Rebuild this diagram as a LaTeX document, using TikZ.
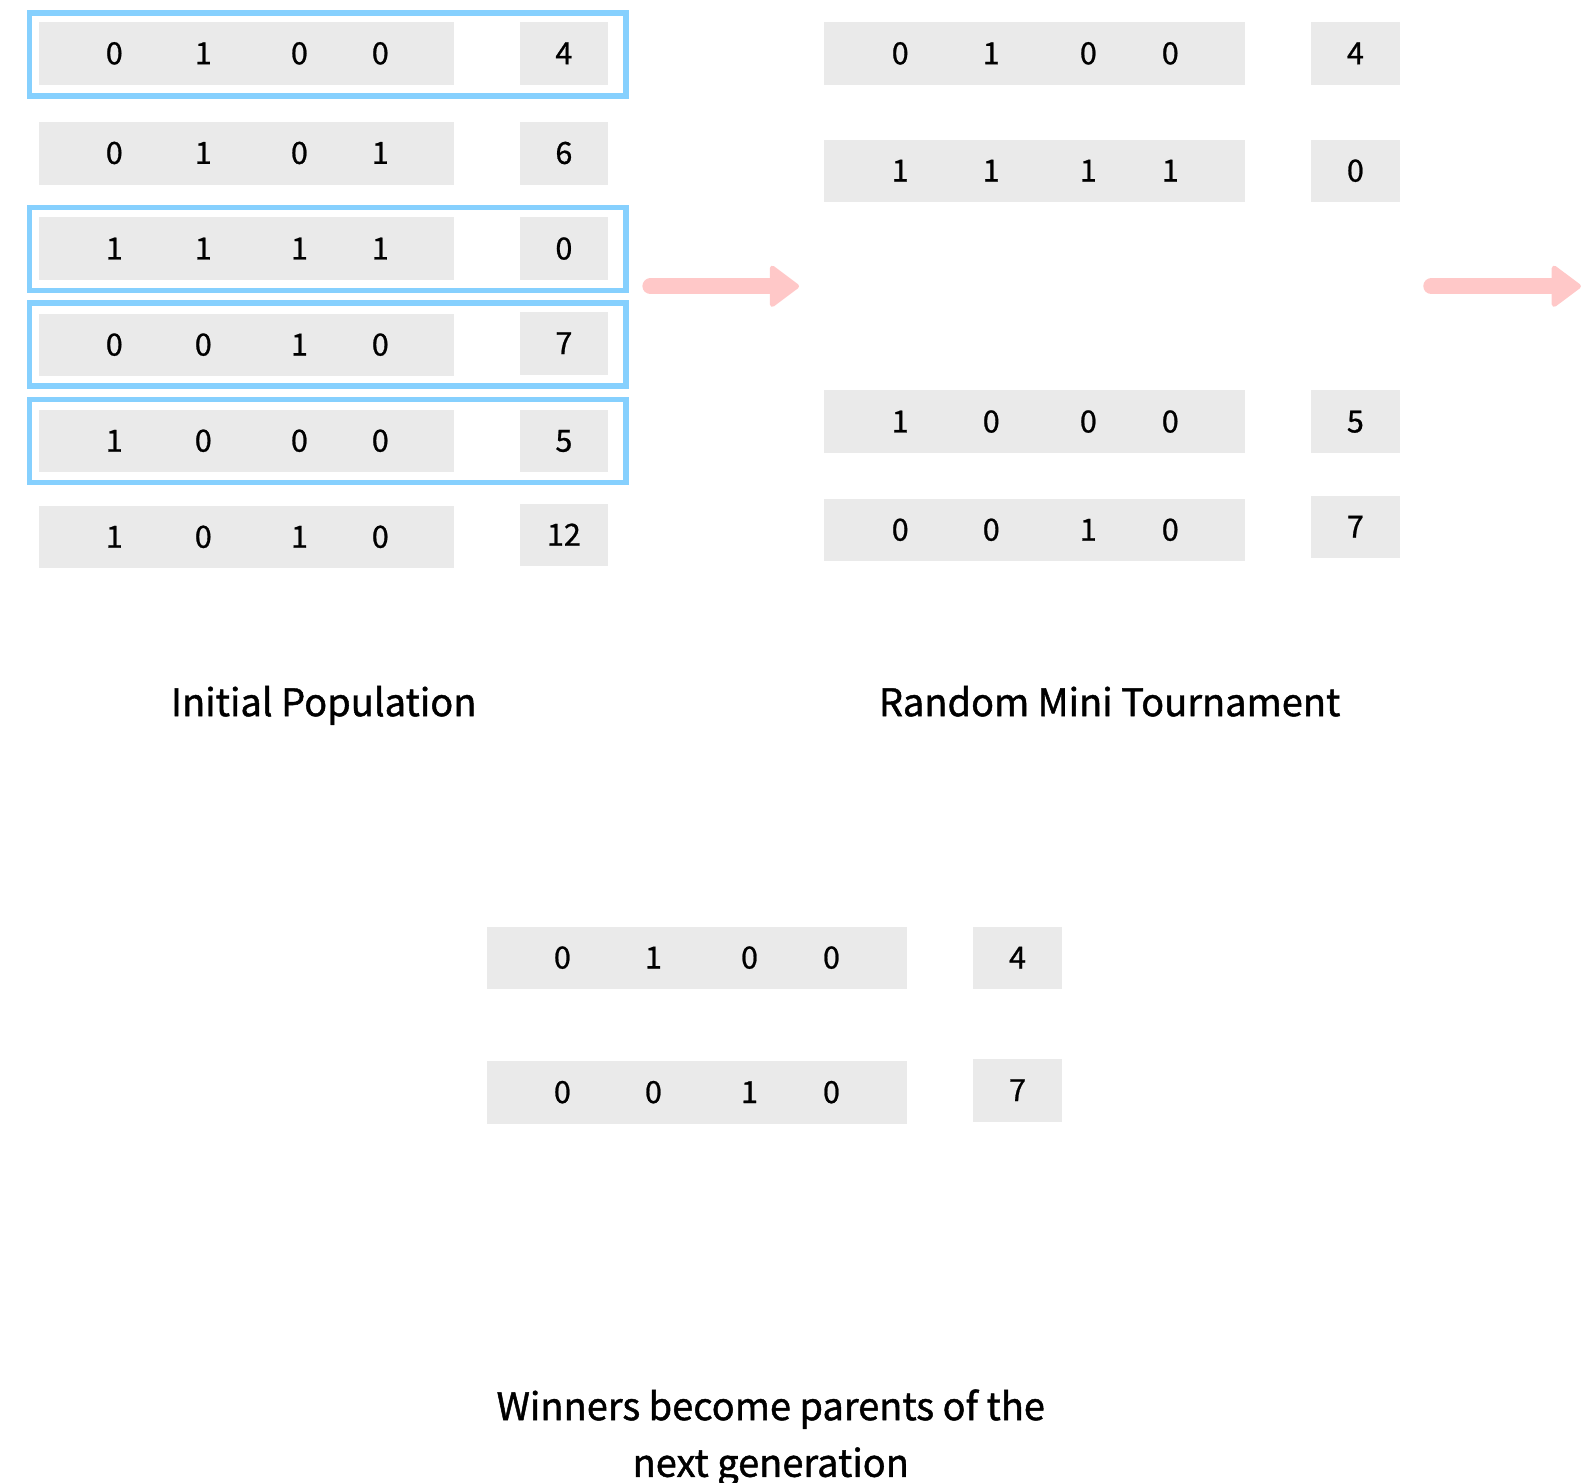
\documentclass[tikz,border=0pt]{standalone}
\usepackage{fontspec}
\setmainfont{Noto Sans CJK SC}
\newfontfamily\heavyfont{Noto Sans CJK SC}[FakeBold=1.2]
\newfontfamily\digitfont{Noto Sans CJK SC}[FakeBold=0.8]
\usetikzlibrary{arrows.meta}
\definecolor{cellgray}{HTML}{EAEAEA}
\definecolor{frameblue}{HTML}{86D0FE}
\definecolor{arrowpink}{HTML}{FFC8C8}
\begin{document}
\begin{tikzpicture}[x=1.0115pt,y=-1.0115pt,
  box/.style={fill=cellgray,draw=none,inner sep=0pt,minimum height=62.7pt},
  bitsL/.style={box,minimum width=414.7pt},
  bitsM/.style={box,minimum width=420.8pt},
  valbox/.style={box,minimum width=88.5pt},
  digit/.style={anchor=base,inner sep=0pt,font=\digitfont\fontsize{30.5}{36}\selectfont},
  frame/.style={draw=frameblue,line width=5.4pt,inner sep=0pt,minimum width=596.8pt,minimum height=82.9pt},
  label/.style={anchor=base,inner sep=0pt,font=\heavyfont\fontsize{38}{50}\selectfont},
  bigarrow/.style={draw=arrowpink,line width=16pt,line cap=round,
    -{Triangle[length=31pt,width=45pt,round,line width=5pt]}}]
\useasboundingbox (0,0) rectangle (1568,1466);
% ---------- left column: initial population ----------
\foreach \n/\y/\vy/\a/\b/\c/\d/\v in {1/53/53/0/1/0/0/4, 2/151.5/151.5/0/1/0/1/6, 3/246/246/1/1/1/1/0,
    4/341/339.5/0/0/1/0/7, 5/436/436/1/0/0/0/5, 6/531/529/1/0/1/0/12}{
  \node[bitsL] (L\n) at (244,\y) {};
  \node[valbox] (LV\n) at (557.5,\vy) {};
  \node[digit] (L\n a) at (113,\y+10.5) {\a};
  \node[digit] (L\n b) at (201,\y+10.5) {\b};
  \node[digit] (L\n c) at (296,\y+10.5) {\c};
  \node[digit] (L\n d) at (376,\y+10.5) {\d};
  \node[digit] (LV\n t) at (557.5,\vy+10.5) {\v};
}
\node[frame] (F1) at (324,54) {};
\node[frame] (F3) at (324,246) {};
\node[frame] (F4) at (324,340.5) {};
\node[frame] (F5) at (324,436) {};
% ---------- middle column: tournament ----------
\foreach \n/\y/\vy/\a/\b/\c/\d/\v in {1/53/53/0/1/0/0/4, 2/169/169/1/1/1/1/0,
    3/417/417/1/0/0/0/5, 4/524/521/0/0/1/0/7}{
  \node[bitsM] (M\n) at (1023,\y) {};
  \node[valbox] (MV\n) at (1340,\vy) {};
  \node[digit] (M\n a) at (890,\y+10.5) {\a};
  \node[digit] (M\n b) at (980,\y+10.5) {\b};
  \node[digit] (M\n c) at (1076,\y+10.5) {\c};
  \node[digit] (M\n d) at (1157,\y+10.5) {\d};
  \node[digit] (MV\n t) at (1340,\vy+10.5) {\v};
}
% ---------- bottom: winners ----------
\foreach \n/\y/\vy/\a/\b/\c/\d/\v in {1/947/947/0/1/0/0/4, 2/1080/1078/0/0/1/0/7}{
  \node[bitsM] (W\n) at (689,\y) {};
  \node[valbox] (WV\n) at (1006,\vy) {};
  \node[digit] (W\n a) at (556,\y+10.5) {\a};
  \node[digit] (W\n b) at (646,\y+10.5) {\b};
  \node[digit] (W\n c) at (741,\y+10.5) {\c};
  \node[digit] (W\n d) at (822,\y+10.5) {\d};
  \node[digit] (WV\n t) at (1006,\vy+10.5) {\v};
}
% ---------- labels ----------
\node[label] (labInit) at (320,708) {Initial Population};
\node[label] (labTour) at (1097,708) {Random Mini Tournament};
\node[label] (labWin1) at (762,1404) {Winners become parents of the};
\node[label] (labWin2) at (762,1460) {next generation};
% ---------- arrows ----------
\coordinate (A1s) at (643,283);
\coordinate (A1e) at (790,283);
\coordinate (A2s) at (1415,283);
\coordinate (A2e) at (1563,283);
\draw[bigarrow] (A1s) -- (A1e);
\draw[bigarrow] (A2s) -- (A2e);
\end{tikzpicture}
\end{document}
